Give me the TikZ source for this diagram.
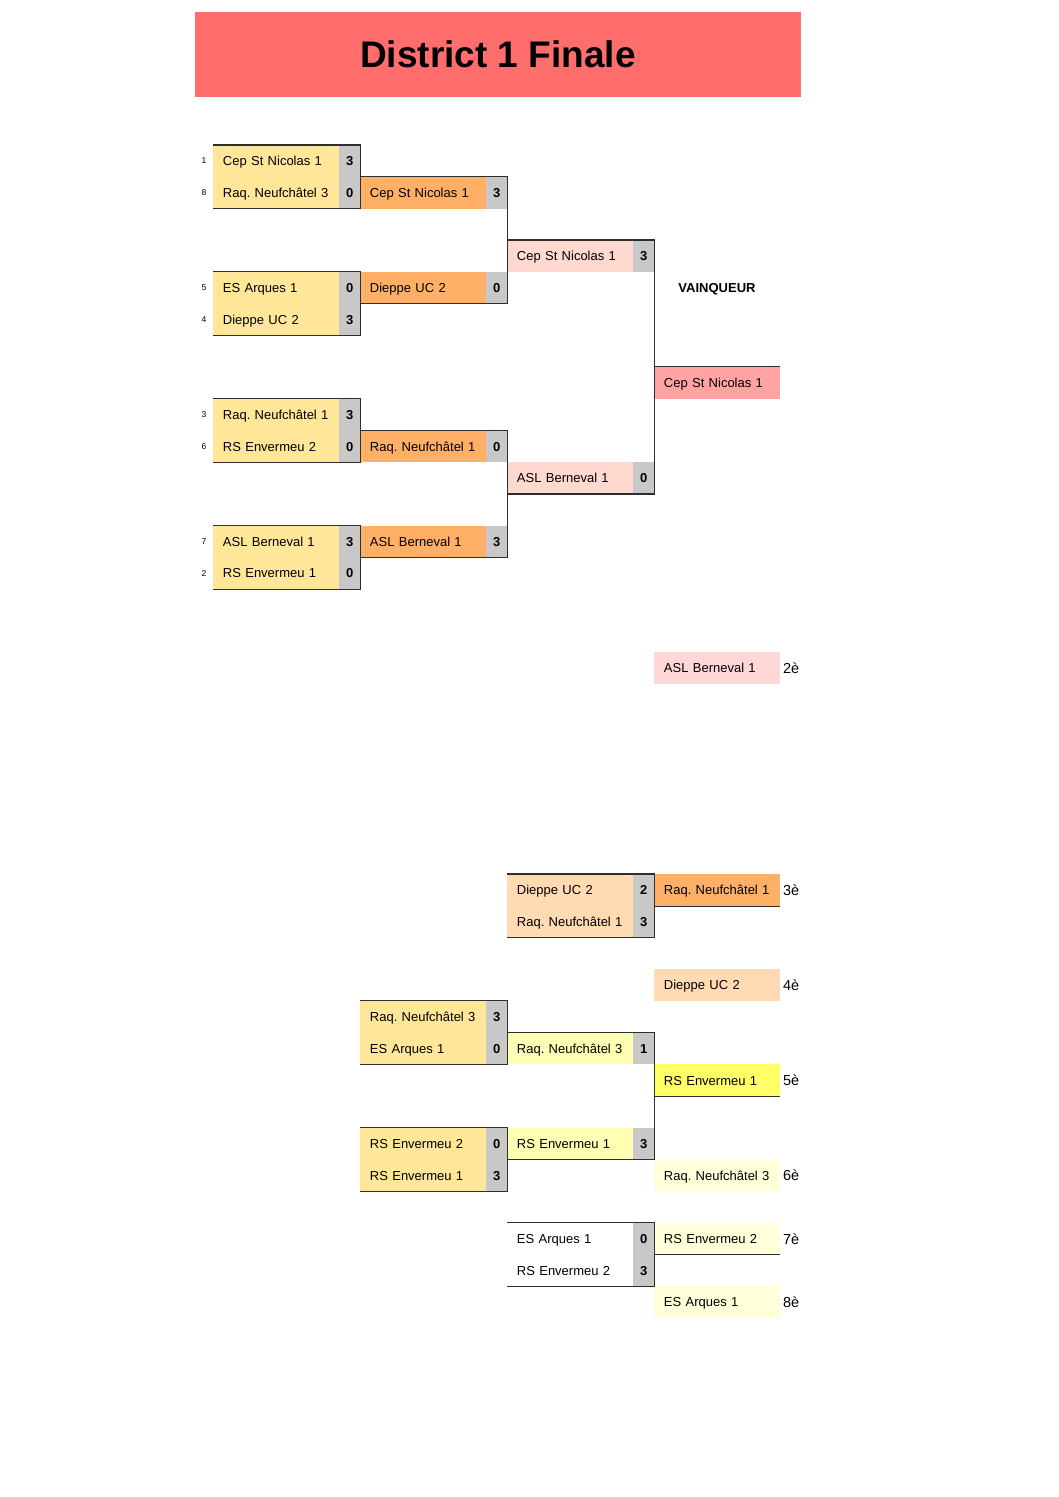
\documentclass[tikz,border=0pt]{standalone}
\usepackage{fontspec}
\setmainfont{Liberation Sans}
\usepackage{xcolor}
\usetikzlibrary{positioning}

\definecolor{titlered}{HTML}{FF6D6D}
\definecolor{roundone}{HTML}{FFE699}
\definecolor{scoregray}{HTML}{C8C8C8}
\definecolor{semiorange}{HTML}{FFB066}
\definecolor{finalpink}{HTML}{FFD9CF}
\definecolor{winnerpink}{HTML}{FFA3A3}
\definecolor{secondpink}{HTML}{FFD7D7}
\definecolor{peach}{HTML}{FFDAB3}
\definecolor{paleyellow}{HTML}{FFFFB3}
\definecolor{brightyellow}{HTML}{FFFF66}
\definecolor{creamyellow}{HTML}{FFFFDA}
\definecolor{rulegray}{HTML}{2E2E2E}

\tikzset{
  team/.style={rectangle, anchor=west, minimum height=31.7pt, text width=106pt,
    inner xsep=9.75pt, inner ysep=0pt, align=left, text height=9.4pt, text depth=0pt,
    font=\fontsize{13}{15}\selectfont\frenchspacing},
  pts/.style={rectangle, fill=scoregray, minimum width=21.5pt, minimum height=31.7pt,
    inner sep=0pt, text height=9.4pt, text depth=0pt, font=\fontsize{13}{15}\selectfont\bfseries},
  seednum/.style={inner sep=0pt, font=\fontsize{8.5}{10}\selectfont},
  place/.style={inner sep=0pt, text height=10.4pt, text depth=0pt, font=\fontsize{14.5}{16}\selectfont},
  cellrule/.style={draw=rulegray, line width=1.2pt}
}

\begin{document}
\begin{tikzpicture}[x=1pt, y=-1pt]
\useasboundingbox (0,0) rectangle (1058,1497);

% Titre
\node[fill=titlered, minimum width=606pt, minimum height=85pt, inner sep=0pt,
  font=\fontsize{37}{40}\selectfont\bfseries] (title) at (498,54.5) {District 1 Finale};

% Tour 1
\node[team, fill=roundone] (a1) at (213,161) {Cep St Nicolas 1};
\node[pts, right=0pt of a1] (a1p) {3};
\node[team, fill=roundone] (a2) at (213,192.7) {Raq. Neufchâtel 3};
\node[pts, right=0pt of a2] (a2p) {0};
\node[team, fill=roundone] (a3) at (213,287.8) {ES Arques 1};
\node[pts, right=0pt of a3] (a3p) {0};
\node[team, fill=roundone] (a4) at (213,319.5) {Dieppe UC 2};
\node[pts, right=0pt of a4] (a4p) {3};
\node[team, fill=roundone] (a5) at (213,414.6) {Raq. Neufchâtel 1};
\node[pts, right=0pt of a5] (a5p) {3};
\node[team, fill=roundone] (a6) at (213,446.3) {RS Envermeu 2};
\node[pts, right=0pt of a6] (a6p) {0};
\node[team, fill=roundone] (a7) at (213,541.4) {ASL Berneval 1};
\node[pts, right=0pt of a7] (a7p) {3};
\node[team, fill=roundone] (a8) at (213,573.1) {RS Envermeu 1};
\node[pts, right=0pt of a8] (a8p) {0};

\foreach \s/\y in {1/161, 8/192.7, 5/287.8, 4/319.5, 3/414.6, 6/446.3, 7/541.4, 2/573.1}
  \node[seednum] (seed\s) at (204,\y) {\s};

% Demi-finales
\node[team, fill=semiorange] (b1) at (360,192.7) {Cep St Nicolas 1};
\node[pts, right=0pt of b1] (b1p) {3};
\node[team, fill=semiorange] (b2) at (360,287.8) {Dieppe UC 2};
\node[pts, right=0pt of b2] (b2p) {0};
\node[team, fill=semiorange] (b3) at (360,446.3) {Raq. Neufchâtel 1};
\node[pts, right=0pt of b3] (b3p) {0};
\node[team, fill=semiorange] (b4) at (360,541.4) {ASL Berneval 1};
\node[pts, right=0pt of b4] (b4p) {3};

% Finale
\node[team, fill=finalpink] (c1) at (507,256.1) {Cep St Nicolas 1};
\node[pts, right=0pt of c1] (c1p) {3};
\node[team, fill=finalpink] (c2) at (507,478) {ASL Berneval 1};
\node[pts, right=0pt of c2] (c2p) {0};

\node[font=\fontsize{13}{15}\selectfont\bfseries, text height=9.4pt, text depth=0pt] (winlabel) at (717,287.8) {VAINQUEUR};
\node[team, fill=winnerpink] (d1) at (654,382.9) {Cep St Nicolas 1};
\node[team, fill=secondpink] (d2) at (654,668.2) {ASL Berneval 1};
\node[place, right=3pt of d2] (p2) {2è};

% Match pour la 3e place
\node[team, fill=peach] (c3) at (507,890.1) {Dieppe UC 2};
\node[pts, right=0pt of c3] (c3p) {2};
\node[team, fill=peach] (c4) at (507,921.8) {Raq. Neufchâtel 1};
\node[pts, right=0pt of c4] (c4p) {3};
\node[team, fill=semiorange] (d3) at (654,890.1) {Raq. Neufchâtel 1};
\node[place, right=3pt of d3] (p3) {3è};
\node[team, fill=peach] (d4) at (654,985.2) {Dieppe UC 2};
\node[place, right=3pt of d4] (p4) {4è};

% Places 5 a 8
\node[team, fill=roundone] (b5) at (360,1016.9) {Raq. Neufchâtel 3};
\node[pts, right=0pt of b5] (b5p) {3};
\node[team, fill=roundone] (b6) at (360,1048.6) {ES Arques 1};
\node[pts, right=0pt of b6] (b6p) {0};
\node[team, fill=roundone] (b7) at (360,1143.7) {RS Envermeu 2};
\node[pts, right=0pt of b7] (b7p) {0};
\node[team, fill=roundone] (b8) at (360,1175.4) {RS Envermeu 1};
\node[pts, right=0pt of b8] (b8p) {3};

\node[team, fill=paleyellow] (c5) at (507,1048.6) {Raq. Neufchâtel 3};
\node[pts, right=0pt of c5] (c5p) {1};
\node[team, fill=paleyellow] (c6) at (507,1143.7) {RS Envermeu 1};
\node[pts, right=0pt of c6] (c6p) {3};
\node[team, fill=brightyellow] (d5) at (654,1080.3) {RS Envermeu 1};
\node[place, right=3pt of d5] (p5) {5è};
\node[team, fill=creamyellow] (d6) at (654,1175.4) {Raq. Neufchâtel 3};
\node[place, right=3pt of d6] (p6) {6è};

\node[team] (c7) at (507,1238.8) {ES Arques 1};
\node[pts, right=0pt of c7] (c7p) {0};
\node[team] (c8) at (507,1270.5) {RS Envermeu 2};
\node[pts, right=0pt of c8] (c8p) {3};
\node[team, fill=creamyellow] (d7) at (654,1238.8) {RS Envermeu 2};
\node[place, right=3pt of d7] (p7) {7è};
\node[team, fill=creamyellow] (d8) at (654,1302.2) {ES Arques 1};
\node[place, right=3pt of d8] (p8) {8è};

% Traits du tableau
\draw[cellrule] (a1.north west) -- (a1p.north east) -- (a2p.south east) -- (a2.south west);
\draw[cellrule] (a3.north west) -- (a3p.north east) -- (a4p.south east) -- (a4.south west);
\draw[cellrule] (a5.north west) -- (a5p.north east) -- (a6p.south east) -- (a6.south west);
\draw[cellrule] (a7.north west) -- (a7p.north east) -- (a8p.south east) -- (a8.south west);
\draw[cellrule] (b1.north west) -- (b1p.north east) -- (b2p.south east) -- (b2.south west);
\draw[cellrule] (b3.north west) -- (b3p.north east) -- (b4p.south east) -- (b4.south west);
\draw[cellrule] (c1.north west) -- (c1p.north east) -- (c2p.south east) -- (c2.south west);
\draw[cellrule] (d1.north west) -- (d1.north east);

\draw[cellrule] (c3.north west) -- (c3p.north east) -- (c4p.south east) -- (c4.south west);
\draw[cellrule] (d3.south west) -- (d3.south east);

\draw[cellrule] (b5.north west) -- (b5p.north east) -- (b6p.south east) -- (b6.south west);
\draw[cellrule] (b7.north west) -- (b7p.north east) -- (b8p.south east) -- (b8.south west);
\draw[cellrule] (c5.north west) -- (c5p.north east) -- (c6p.south east) -- (c6.south west);
\draw[cellrule] (d5.south west) -- (d5.south east);
\draw[cellrule] (c7.north west) -- (c7p.north east) -- (c8p.south east) -- (c8.south west);
\draw[cellrule] (d7.south west) -- (d7.south east);
\end{tikzpicture}
\end{document}
